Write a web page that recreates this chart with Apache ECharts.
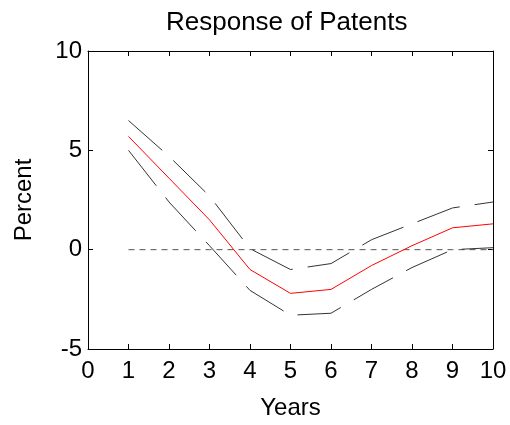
<!DOCTYPE html>
<html><head><meta charset="utf-8">
<script src="https://cdn.jsdelivr.net/npm/echarts@6/dist/echarts.min.js"></script>
<style>html,body{margin:0;padding:0;background:#fff}#c{width:510px;height:425px}</style>
</head><body><div id="c"></div>
<script>
const years = [1,2,3,4,5,6,7,8,9,10];
const response = [5.7,3.6,1.5,-1.0,-2.2,-2.0,-0.8,0.2,1.1,1.3];
const upper = [6.5,4.7,2.7,0.05,-1.0,-0.7,0.5,1.3,2.1,2.4];
const lower = [5.0,2.4,0.2,-2.05,-3.3,-3.2,-2.0,-0.9,0.0,0.1];
const zeroLine = [0,0,0,0,0,0,0,0,0,0];
const xTicks = [0,1,2,3,4,5,6,7,8,9,10];
const yTicks = [-5,0,5,10];

const pair = (ys) => years.map((x,i)=>[x, ys[i]]);
const font = 'Liberation Sans, Arial, sans-serif';
const chart = echarts.init(document.getElementById('c'));
const axLine = {show:true, onZero:false, lineStyle:{color:'#000', width:1}};
const tick = {show:true, inside:true, length:5, lineStyle:{color:'#000'}};
chart.setOption({
  animation:false,
  title:{text:'Response of Patents', left:161, top:5,
    textStyle:{fontFamily:font, fontSize:26, fontWeight:'normal', color:'#000'}},
  grid:{left:88, right:17, top:51, bottom:72},
  xAxis:[{type:'value', min:0, max:10, interval:1, position:'bottom',
    name:'Years', nameLocation:'middle', nameGap:47,
    nameTextStyle:{fontFamily:font, fontSize:24, color:'#000'},
    axisLine:axLine, axisTick:tick,
    axisLabel:{fontFamily:font, fontSize:24, color:'#000', margin:10,
      formatter:(v)=> xTicks.includes(v) ? String(v) : ''},
    splitLine:{show:false}},
   {type:'value', min:0, max:10, interval:1, position:'top',
    axisLine:axLine, axisTick:tick,
    axisLabel:{show:false}, splitLine:{show:false}}],
  yAxis:[{type:'value', min:-5, max:10, interval:5, position:'left',
    name:'Percent', nameLocation:'middle', nameGap:52, nameRotate:90,
    nameTextStyle:{fontFamily:font, fontSize:24, color:'#000'},
    axisLine:axLine, axisTick:tick,
    axisLabel:{fontFamily:font, fontSize:24, color:'#000', margin:6,
      formatter:(v)=> yTicks.includes(v) ? String(v) : ''},
    splitLine:{show:false}},
   {type:'value', min:-5, max:10, interval:5, position:'right',
    axisLine:axLine, axisTick:tick,
    axisLabel:{show:false}, splitLine:{show:false}}],
  series:[
    {type:'line', data:pair(zeroLine), symbol:'none', z:1,
     lineStyle:{color:'#555', width:1, type:[6,5]}},
    {type:'line', data:pair(upper), symbol:'none', z:2,
     lineStyle:{color:'#333', width:1, type:[45,15]}},
    {type:'line', data:pair(lower), symbol:'none', z:2,
     lineStyle:{color:'#333', width:1, type:[45,15]}},
    {type:'line', data:pair(response), symbol:'none', z:3,
     lineStyle:{color:'#ff0000', width:1}}
  ]
});
</script></body></html>
